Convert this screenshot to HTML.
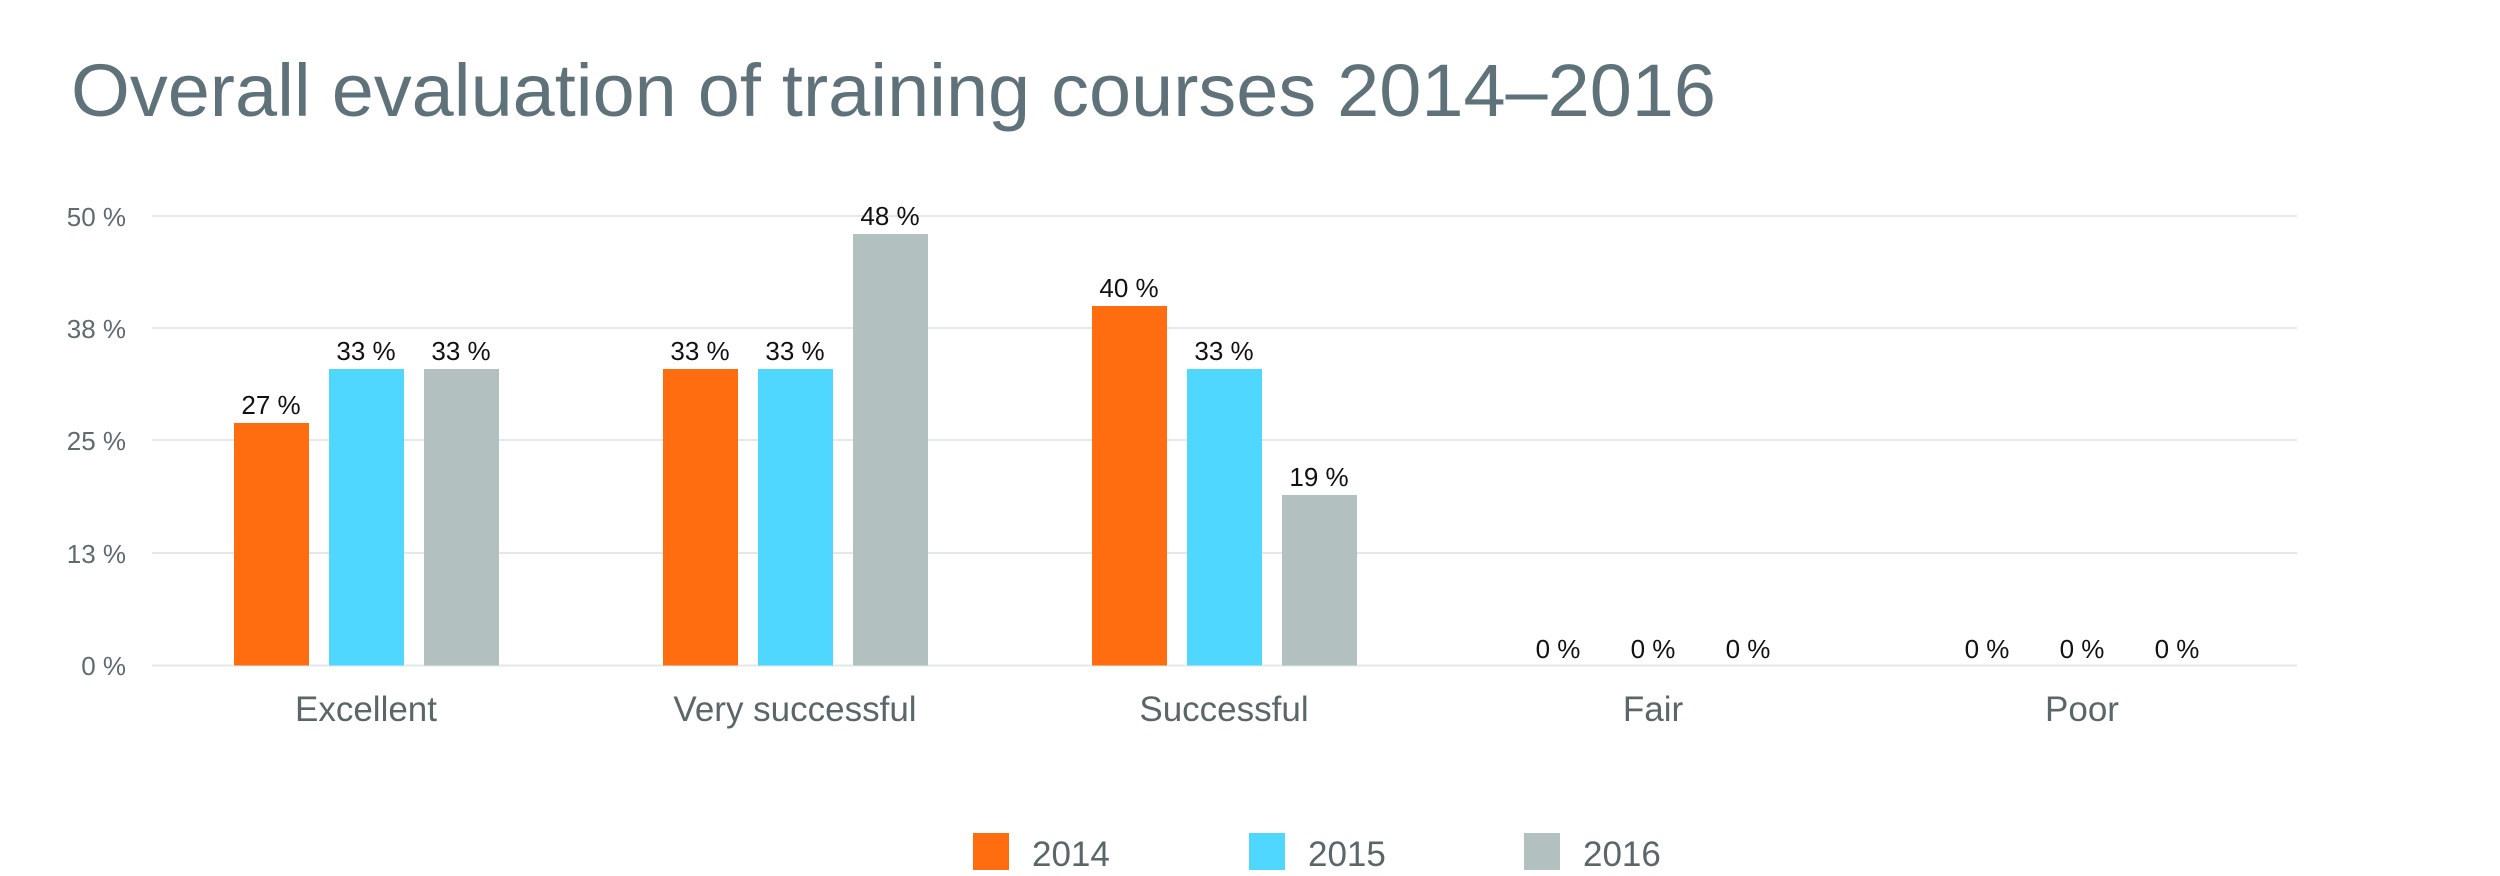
<!DOCTYPE html>
<html><head><meta charset="utf-8"><style>
html,body{margin:0;padding:0;background:#fff;}
svg{display:block;font-family:"Liberation Sans",sans-serif;}
</style></head><body>
<svg width="2500" height="876" viewBox="0 0 2500 876" xmlns="http://www.w3.org/2000/svg">
<text x="71" y="116" font-size="74" fill="#5f7279" textLength="1645" lengthAdjust="spacingAndGlyphs">Overall evaluation of training courses 2014–2016</text>
<g stroke="#e3e8e8" stroke-width="2">
<line x1="152" x2="2297" y1="216" y2="216"/>
<line x1="152" x2="2297" y1="328" y2="328"/>
<line x1="152" x2="2297" y1="440" y2="440"/>
<line x1="152" x2="2297" y1="553" y2="553"/>
<line x1="152" x2="2297" y1="665.5" y2="665.5"/>
</g>
<g font-size="26" fill="#5f6b6e" text-anchor="end">
<text x="126" y="226">50 %</text>
<text x="126" y="338">38 %</text>
<text x="126" y="450">25 %</text>
<text x="126" y="563">13 %</text>
<text x="126" y="675">0 %</text>
</g>
<g>
<rect x="234" y="423" width="75" height="242.5" fill="#ff6d10"/>
<rect x="329" y="369" width="75" height="296.5" fill="#4fd7ff"/>
<rect x="424" y="369" width="75" height="296.5" fill="#b2c0bf"/>
<rect x="663" y="369" width="75" height="296.5" fill="#ff6d10"/>
<rect x="758" y="369" width="75" height="296.5" fill="#4fd7ff"/>
<rect x="853" y="234" width="75" height="431.5" fill="#b2c0bf"/>
<rect x="1092" y="306" width="75" height="359.5" fill="#ff6d10"/>
<rect x="1187" y="369" width="75" height="296.5" fill="#4fd7ff"/>
<rect x="1282" y="495" width="75" height="170.5" fill="#b2c0bf"/>
</g>
<g font-size="26" fill="#111" text-anchor="middle">
<text x="271" y="414">27 %</text>
<text x="366" y="360">33 %</text>
<text x="461" y="360">33 %</text>
<text x="700" y="360">33 %</text>
<text x="795" y="360">33 %</text>
<text x="890" y="225">48 %</text>
<text x="1129" y="297">40 %</text>
<text x="1224" y="360">33 %</text>
<text x="1319" y="486">19 %</text>
<text x="1558" y="658">0 %</text>
<text x="1653" y="658">0 %</text>
<text x="1748" y="658">0 %</text>
<text x="1987" y="658">0 %</text>
<text x="2082" y="658">0 %</text>
<text x="2177" y="658">0 %</text>
</g>
<g font-size="35" fill="#5a6669" text-anchor="middle">
<text x="366" y="721">Excellent</text>
<text x="795" y="721">Very successful</text>
<text x="1224" y="721">Successful</text>
<text x="1653" y="721">Fair</text>
<text x="2082" y="721">Poor</text>
</g>
<rect x="973" y="833" width="36" height="37" fill="#ff6d10"/>
<rect x="1249" y="833" width="36" height="37" fill="#4fd7ff"/>
<rect x="1524" y="833" width="36" height="37" fill="#b2c0bf"/>
<g font-size="35" fill="#5a6669">
<text x="1032" y="866">2014</text>
<text x="1308" y="866">2015</text>
<text x="1583" y="866">2016</text>
</g>
</svg>
</body></html>
